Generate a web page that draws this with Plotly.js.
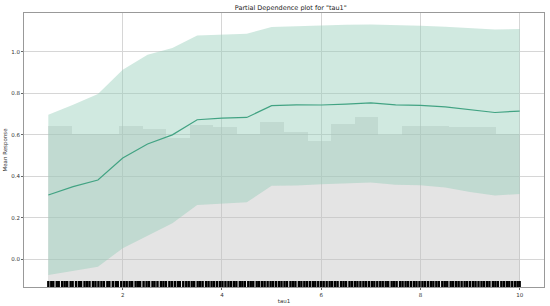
<!DOCTYPE html>
<html>
<head>
<meta charset="utf-8">
<script src="https://cdn.plot.ly/plotly-3.0.1.min.js"></script>
<style>
  html, body { margin: 0; padding: 0; background: #fff; }
  #plotArea { width: 550px; height: 306px; }
</style>
</head>
<body>
<div id="plotArea"></div>
<script>
// grid of tau1 values where the partial dependence was evaluated
var gridX = [0.5, 1.0, 1.5, 2.0, 2.5, 3.0, 3.5, 4.0, 4.5, 5.0, 5.5, 6.0, 6.5, 7.0, 7.5, 8.0, 8.5, 9.0, 9.5, 10.0];
var meanResp = [0.31, 0.35, 0.382, 0.488, 0.556, 0.600, 0.673, 0.681, 0.684, 0.741, 0.745, 0.744, 0.748, 0.754, 0.745, 0.742, 0.735, 0.720, 0.708, 0.715];
var upperBand = [0.697, 0.745, 0.797, 0.914, 0.987, 1.019, 1.079, 1.084, 1.088, 1.120, 1.124, 1.129, 1.131, 1.132, 1.130, 1.127, 1.122, 1.116, 1.108, 1.111];
var lowerBand = [-0.076, -0.055, -0.036, 0.053, 0.114, 0.174, 0.262, 0.267, 0.275, 0.354, 0.356, 0.362, 0.367, 0.370, 0.359, 0.357, 0.346, 0.324, 0.307, 0.315];

// histogram of tau1 (scaled onto the response axis)
var binCenters = [0.7375, 1.2125, 1.6875, 2.1625, 2.6375, 3.1125, 3.5875, 4.0625, 4.5375, 5.0125,
  5.4875, 5.9625, 6.4375, 6.9125, 7.3875, 7.8625, 8.3375, 8.8125, 9.2875, 9.7625];
var binHeights = [0.644, 0.604, 0.602, 0.644, 0.628, 0.584, 0.646, 0.637, 0.602, 0.660, 0.613, 0.571, 0.652, 0.684, 0.598, 0.645, 0.645, 0.637, 0.640, 0.605];

// rug of observed tau1 values
var rugX = [0.50,0.56,0.60,0.67,0.71,0.78,0.83,0.88,0.95,0.99,1.06,1.12,1.16,1.23,1.28,1.33,1.40,1.45,1.51,1.57,
  1.62,1.69,1.73,1.80,1.86,1.90,1.97,2.03,2.08,2.14,2.19,2.26,2.31,2.35,2.42,2.48,2.53,2.60,2.64,2.70,
  2.77,2.82,2.87,2.94,2.99,3.05,3.11,3.15,3.22,3.28,3.33,3.39,3.44,3.51,3.56,3.61,3.68,3.73,3.79,3.84,
  3.90,3.96,4.01,4.07,4.13,4.18,4.24,4.29,4.36,4.41,4.46,4.53,4.58,4.63,4.70,4.75,4.81,4.86,4.92,4.98,
  5.03,5.09,5.15,5.20,5.26,5.31,5.38,5.43,5.48,5.55,5.60,5.66,5.71,5.77,5.83,5.88,5.94,6.00,6.05,6.11,
  6.17,6.22,6.28,6.33,6.40,6.45,6.50,6.57,6.62,6.68,6.73,6.79,6.85,6.90,6.96,7.02,7.07,7.13,7.19,7.24,
  7.30,7.35,7.42,7.47,7.52,7.59,7.64,7.70,7.75,7.81,7.87,7.92,7.98,8.04,8.09,8.15,8.21,8.26,8.32,8.37,
  8.44,8.49,8.54,8.61,8.66,8.72,8.77,8.83,8.89,8.94,9.00,9.06,9.11,9.17,9.23,9.28,9.34,9.39,9.46,9.51,
  9.56,9.63,9.68,9.74,9.79,9.85,9.91,9.96,10.00];

var yMin = -0.134, yMax = 1.188;

var hist = {
  x: binCenters,
  y: binHeights.map(function (h) { return h - yMin; }),
  base: yMin,
  width: 0.475,
  type: "bar",
  marker: {color: "rgba(190,190,190,0.42)", line: {width: 0}},
  hoverinfo: "skip",
  showlegend: false
};

var upper = {
  x: gridX, y: upperBand,
  type: "scatter", mode: "lines",
  line: {width: 0, color: "rgba(0,0,0,0)"},
  showlegend: false
};

var lower = {
  x: gridX, y: lowerBand,
  type: "scatter", mode: "lines",
  line: {width: 0, color: "rgba(0,0,0,0)"},
  fill: "tonexty",
  fillcolor: "rgba(148,205,185,0.44)",
  showlegend: false
};

var line = {
  x: gridX, y: meanResp,
  type: "scatter", mode: "lines",
  line: {color: "#42a383", width: 1.2},
  showlegend: false
};

var rug = {
  x: rugX,
  y: rugX.map(function () { return -0.122; }),
  type: "scatter", mode: "markers",
  marker: {symbol: "line-ns", size: 5, line: {width: 2.4, color: "#000"}},
  hoverinfo: "skip",
  showlegend: false
};

var axisFont = {family: "DejaVu Sans, sans-serif", size: 5.5, color: "#333"};

var layout = {
  width: 550, height: 306,
  margin: {l: 24, r: 6, t: 13, b: 19},
  paper_bgcolor: "#fff",
  plot_bgcolor: "#fff",
  bargap: 0,
  font: {family: "DejaVu Sans, sans-serif", color: "#222"},
  title: {
    text: 'Partial Dependence plot for "tau1"',
    font: {family: "DejaVu Sans, sans-serif", size: 6.5, color: "#222"},
    x: 0.513, xref: "paper", y: 0.975, yref: "container", yanchor: "middle"
  },
  xaxis: {
    range: [0.01, 10.49],
    tickvals: [2, 4, 6, 8, 10],
    tickfont: axisFont,
    ticks: "outside", ticklen: 2, tickcolor: "#666",
    showgrid: true, gridcolor: "#d6d6d6", gridwidth: 1,
    zeroline: false,
    showline: true, mirror: true, linecolor: "#999", linewidth: 1,
    title: {text: "tau1", font: {family: "DejaVu Sans, sans-serif", size: 5.5, color: "#333"}, standoff: 2}
  },
  yaxis: {
    range: [yMin, yMax],
    tickvals: [0, 0.2, 0.4, 0.6, 0.8, 1.0],
    tickformat: ".1f",
    tickfont: axisFont,
    ticks: "outside", ticklen: 2, tickcolor: "#666",
    showgrid: true, gridcolor: "#d6d6d6", gridwidth: 1,
    zeroline: false,
    showline: true, mirror: true, linecolor: "#999", linewidth: 1,
    title: {text: "Mean Response", font: {family: "DejaVu Sans, sans-serif", size: 5.5, color: "#333"}, standoff: 3}
  }
};

Plotly.newPlot("plotArea", [hist, upper, lower, line, rug], layout, {displayModeBar: false, staticPlot: true});
</script>
</body>
</html>
